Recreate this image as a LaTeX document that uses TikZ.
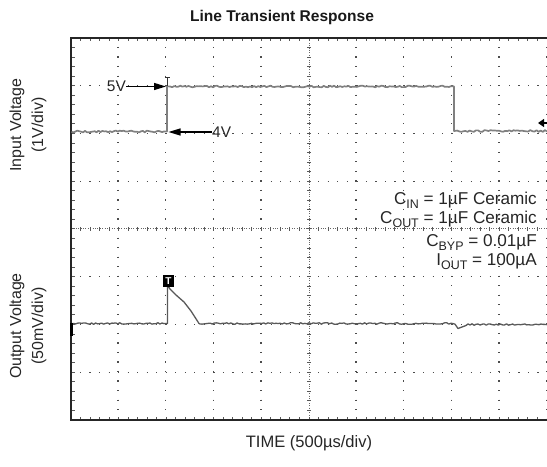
\documentclass[tikz,border=0pt]{standalone}
\usepackage{fontspec}
\setmainfont{Liberation Sans}
\usetikzlibrary{arrows.meta}
\newcommand\sbs[1]{\raisebox{-4bp}{\fontsize{12.5}{13}\selectfont #1}}
\tikzset{
  lbl/.style={inner sep=0pt, font=\fontsize{15.5}{18}\selectfont, text=black!85},
  cond/.style={inner sep=0pt, font=\fontsize{17.2}{20}\selectfont, text=black!85},
  axlbl/.style={inner sep=0pt, font=\fontsize{16}{18}\selectfont, text=black!85, rotate=90},
  timelbl/.style={inner sep=0pt, font=\fontsize{16.6}{18}\selectfont, text=black!85},
  ttl/.style={inner sep=0pt, font=\bfseries\fontsize{15.6}{18}\selectfont, text=black!90},
  frameline/.style={line width=1.3bp, black!85},
  griddot/.style={black!70, line width=1.3bp, dash pattern=on 1.2bp off 8.33bp, dash phase=0.6bp},
  centerdot/.style={black!60, line width=1bp, dash pattern=on 1bp off 1.4bp},
  edgetick/.style={black!65, line width=1bp},
  intrace/.style={black!50, line width=1.7bp, line join=round},
  outtrace/.style={black!65, line width=1.3bp, line join=round},
  markarrow/.style={black, line width=1.2bp, -{Triangle[length=12bp,width=7bp]}},
  tbox/.style={fill=black, text=white, inner sep=0pt, minimum width=11bp, minimum height=12bp, font=\bfseries\fontsize{10}{10}\selectfont},
}
\begin{document}
\begin{tikzpicture}[x=1bp,y=-1bp]
\useasboundingbox (0,0) rectangle (547,467);
% grid lines
\foreach \i in {1,2,3,4,6,7,8,9,10}{
  \draw[griddot] ({71+47.6*\i-0.5},38) -- ({71+47.6*\i-0.5},420);
}
\foreach \j in {1,2,3,5,6,7}{
  \draw[griddot] (71,{38+47.75*\j}) -- (547,{38+47.75*\j});
}
% centre cross
\draw[centerdot] (309,38) -- (309,420);
\draw[centerdot] (71,229) -- (547,229);
\foreach \k in {1,...,39}{
  \draw[edgetick] (307,{38+9.55*\k}) -- (311,{38+9.55*\k});
}
\foreach \k in {1,...,49}{
  \draw[edgetick] ({71+9.52*\k},227) -- ({71+9.52*\k},231);
  \draw[edgetick] ({71+9.52*\k},38) -- ({71+9.52*\k},41.5);
  \draw[edgetick] ({71+9.52*\k},420) -- ({71+9.52*\k},416.5);
}
\foreach \k in {1,...,39}{
  \draw[edgetick] (71,{38+9.55*\k}) -- (74.5,{38+9.55*\k});
}
% frame
\draw[frameline] (547,38) -- (71,38) -- (71,420) -- (547,420);
% input trace
\pgfmathsetseed{12}
\draw[intrace] plot[domain=71.5:166, samples=50] (\x,{131.5+0.9*rand}) -- (167,131.5) -- (167,86.5)
  -- plot[domain=168:453, samples=140] (\x,{86.5+0.8*rand}) -- (454,86.5) -- (454,131)
  -- plot[domain=455:547, samples=45] (\x,{131+0.9*rand});
% output trace
\draw[outtrace] plot[domain=71.5:166, samples=48] (\x,{323.5+0.8*rand}) -- (167.5,323.5) -- (167.5,285)
  -- (170,289) -- (176,295) -- (184,302) -- (191,311) -- (199,323.5)
  -- plot[domain=200:455, samples=125] (\x,{323.5+0.8*rand}) -- (458,328.5) -- (462,327) -- (466,325.5)
  -- plot[domain=468:547, samples=40] (\x,{324.5+0.8*rand});
% markers
\draw[black!80, line width=1bp] (164.8,78) -- (169.6,78) (167.2,78) -- (167.2,86);
\node[tbox] (trig) at (168.5,281) {T};
\fill[black] (69.5,323) rectangle (72.5,336);
\coordinate (gndR) at (547,123);
\coordinate (gndRtip) at (538,123);
\draw[black, line width=1.3bp, -{Triangle[length=6bp,width=8bp]}] (gndR) -- (gndRtip);
% level labels
\node[lbl, anchor=base east] (v5) at (126,91.5) {5V};
\coordinate (v5tip) at (166,86.5);
\draw[markarrow] (v5.east |- v5tip) -- (v5tip);
\node[lbl, anchor=base west] (v4) at (212,137.5) {4V};
\coordinate (v4tip) at (168.5,132);
\draw[markarrow] (v4.west |- v4tip) -- (v4tip);
% conditions
\node[cond, anchor=base east] (cin) at (537,205) {C\sbs{IN} = 1µF Ceramic};
\node[cond, anchor=base east] (cout) at (537,224) {C\sbs{OUT} = 1µF Ceramic};
\node[cond, anchor=base east] (cbyp) at (537,247) {C\sbs{BYP} = 0.01µF};
\node[cond, anchor=base east] (iout) at (537,266) {I\sbs{OUT} = 100µA};
% titles
\node[ttl] (title) at (282,17) {Line Transient Response};
\node[timelbl] (time) at (309,443) {TIME (500µs/div)};
\node[axlbl] (inlab) at (17,125) {Input Voltage};
\node[axlbl] (indiv) at (39,125) {(1V/div)};
\node[axlbl] (outlab) at (17,326) {Output Voltage};
\node[axlbl] (outdiv) at (39,326) {(50mV/div)};
\end{tikzpicture}
\end{document}
